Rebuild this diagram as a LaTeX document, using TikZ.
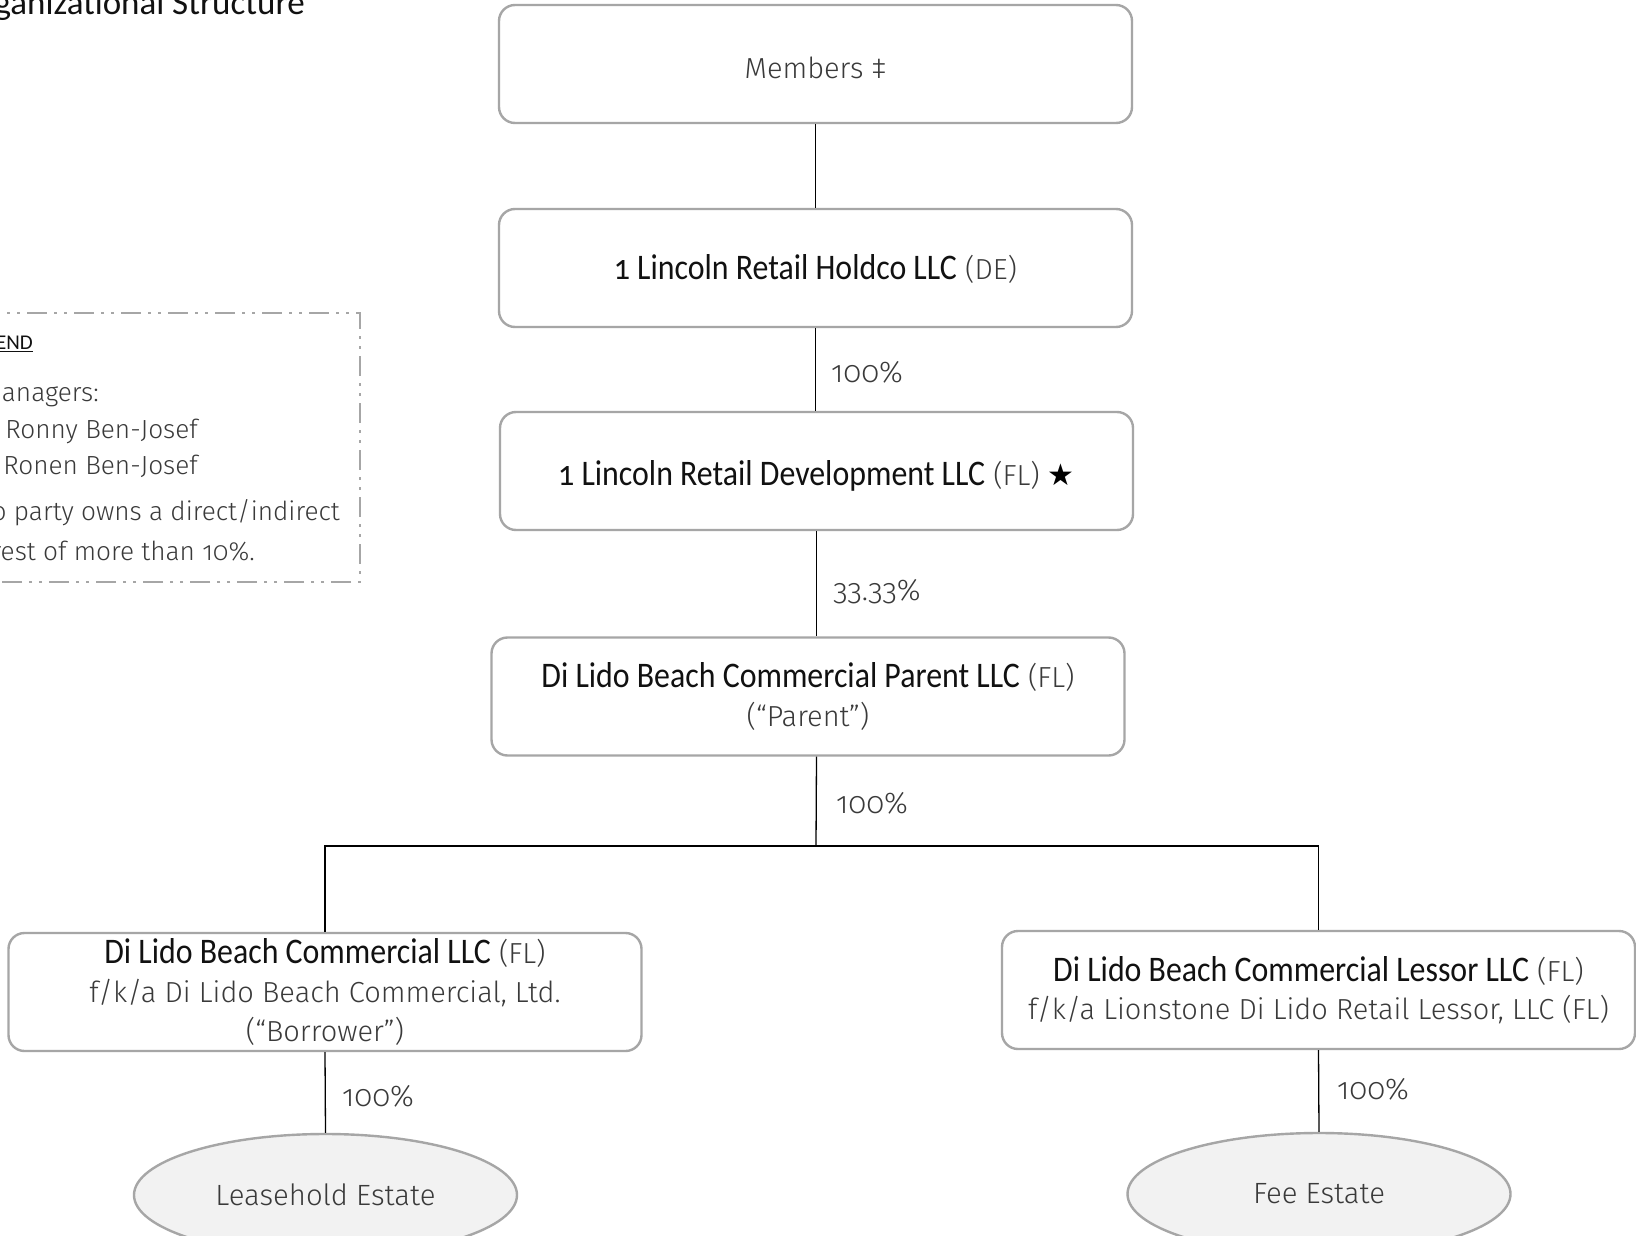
\documentclass[tikz,border=0pt]{standalone}
\usepackage{fontspec}
\usepackage{graphicx}
\setmainfont{Fira Sans Light}[Numbers=OldStyle]
\newfontfamily\darkf{Carlito}[Numbers=OldStyle]
\newfontfamily\titlef{Carlito}
\newfontfamily\symf{DejaVu Sans}
\usetikzlibrary{shapes.geometric}
\definecolor{boxgray}{HTML}{A6A6A6}
\definecolor{txtgray}{HTML}{3A3A3A}
\definecolor{ellfill}{HTML}{F2F2F2}
\definecolor{darktxt}{HTML}{111111}
\newcommand\dk[1]{\scalebox{0.885}[1]{\darkf\fontsize{36}{38.6}\selectfont\color{darktxt}#1}}
\newcommand\dropby[2]{\raisebox{-#1}[\height][\depth]{#2}}
\begin{document}
\begin{tikzpicture}[x=1pt,y=-1pt,
  entity/.style={draw=boxgray, line width=2.4pt, rounded corners=16pt,
    minimum width=633pt, minimum height=118pt, align=center,
    font=\fontsize{29}{38.6}\selectfont, text=txtgray, inner sep=0pt},
  estate/.style={ellipse, draw=boxgray, fill=ellfill, line width=2.4pt,
    minimum width=383pt, minimum height=122pt, inner sep=0pt,
    font=\fontsize{29.3}{36}\selectfont, text=txtgray},
  link/.style={draw=black, line width=1.3pt},
  pct/.style={anchor=west, inner sep=0pt, font=\fontsize{30}{36}\selectfont, text=txtgray},
  legtext/.style={anchor=east, inner sep=0pt, font=\fontsize{26.2}{32}\selectfont, text=txtgray},
  legframe/.style={draw=boxgray, line width=2.4pt,
    dash pattern=on 20pt off 7pt on 3pt off 7pt on 3pt off 7pt},
]
\useasboundingbox (0,0) rectangle (1636,1236);
\clip (0,0) rectangle (1636,1236);
\fill[white] (0,0) rectangle (1636,1236);

% title
\node[anchor=base east, inner sep=0pt, font=\titlef\fontsize{35}{40}\selectfont, text=darktxt] (title) at (305,15) {Organizational Structure};

% legend
\draw[legframe] (-20,313) -- (360,313) -- (360,582) -- (-20,582);
\node[anchor=east, inner sep=0pt, font=\titlef\fontsize{21}{24}\selectfont, text=darktxt] (legh) at (33,344) {\underline{LEGEND}};
\node[legtext] (lg1) at (99,395) {Managers:};
\node[legtext] (lg2) at (198,431) {Ronny Ben-Josef};
\node[legtext] (lg3) at (198,466) {Ronen Ben-Josef};
\node[legtext] (lg4) at (340,513) {No party owns a direct/indirect};
\node[legtext] (lg5) at (255,551) {interest of more than 10\%.};

% entities
\node[entity] (mem) at (815.5,64) {\dropby{4pt}{Members ‡}};
\node[entity] (hold) at (815.5,268) {\dropby{1pt}{\dk{1 Lincoln Retail Holdco LLC} (DE)}};
\node[entity] (dev) at (816.5,471) {\dropby{5pt}{\dk{1 Lincoln Retail Development LLC} (FL) {\symf\color{black}\fontsize{30}{30}\selectfont ★}}};
\node[entity] (par) at (808,696.5) {\dk{Di Lido Beach Commercial Parent LLC} (FL)\\(“Parent”)};
\node[entity] (bor) at (325,992) {\dk{Di Lido Beach Commercial LLC} (FL)\\f/k/a Di Lido Beach Commercial, Ltd.\\(“Borrower”)};
\node[entity] (les) at (1318.5,990) {\dk{Di Lido Beach Commercial Lessor LLC} (FL)\\f/k/a Lionstone Di Lido Retail Lessor, LLC (FL)};
\node[estate] (lease) at (325.5,1195) {Leasehold Estate};
\node[estate] (fee) at (1319,1194) {Fee Estate};

% connectors
\coordinate (jn) at (816,846);
\draw[link] (mem.south) -- (hold.north);
\draw[link] (hold.south) -- (hold.south |- dev.north);
\draw[link] (dev.south) -- (dev.south |- par.north);
\draw[link] (dev.south |- par.south) -- (jn);
\draw[link] (bor.north) |- (jn) -| (les.north);
\draw[link] (bor.south) -- (lease.north);
\draw[link] (les.south) -- (fee.north);

% percentages
\node[pct] (p1) at (831,372.5) {100\%};
\node[pct] (p2) at (833,592) {33.33\%};
\node[pct] (p3) at (836,803) {100\%};
\node[pct] (p4) at (342,1096) {100\%};
\node[pct] (p5) at (1337,1089) {100\%};
\end{tikzpicture}
\end{document}
